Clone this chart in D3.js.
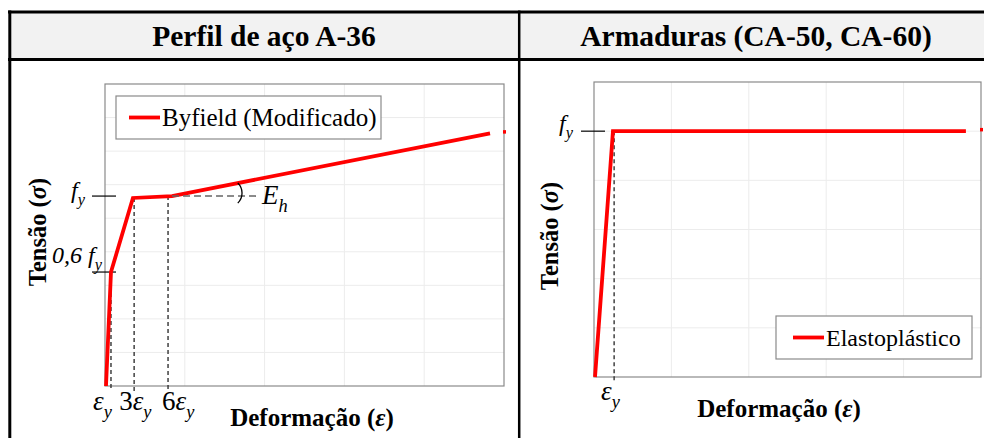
<!DOCTYPE html>
<html>
<head>
<meta charset="utf-8">
<script src="https://cdn.jsdelivr.net/npm/d3@7"></script>
<style>
  body { margin: 0; background: #fff; }
  svg { display: block; font-family: "Liberation Serif", "Times New Roman", serif; }
</style>
</head>
<body>
<div id="chart"></div>
<script>
// --- data (normalised units: strain 0..100 across the axis, stress in f_y) ---
var byfieldX = [0.25, 1.5, 7.0, 16.8, 96.5]
var byfieldY = [0, 0.6, 0.99, 1.0, 1.33]
var leftStrainTicks = [1.5, 7.3, 15.8]
var leftStrainLabels = ['', '3', '6']
var leftStressTicks = [1.0, 0.6]
var leftStressLabels = ['', '0,6 ']

var elastoX = [0.26, 4.9, 96.1]
var elastoY = [0, 1.0, 1.0]
var rightStrainTicks = [5.2]
var rightStressTicks = [1.0]

var titles = ['Perfil de aço A-36', 'Armaduras (CA-50, CA-60)']
var legendNames = ['Byfield (Modificado)', 'Elastoplástico']

var W = 984, H = 438
var svg = d3.select('#chart').append('svg').attr('width', W).attr('height', H)

// --- table frame ---
svg.append('rect').attr('x', 9.5).attr('y', 12).attr('width', W).attr('height', 47.5).attr('fill', '#f2f2f2')
svg.append('line').attr('x1', 8).attr('x2', W).attr('y1', 12).attr('y2', 12).attr('stroke', '#000').attr('stroke-width', 3)
svg.append('line').attr('x1', 8).attr('x2', W).attr('y1', 59.5).attr('y2', 59.5).attr('stroke', '#000').attr('stroke-width', 3)
svg.append('line').attr('x1', 9.8).attr('x2', 9.8).attr('y1', 10.5).attr('y2', H).attr('stroke', '#000').attr('stroke-width', 3)
svg.append('line').attr('x1', 519.2).attr('x2', 519.2).attr('y1', 10.5).attr('y2', H).attr('stroke', '#000').attr('stroke-width', 2.5)

svg.selectAll('text.title').data(titles).enter().append('text')
  .attr('class', 'title')
  .attr('x', function(d, i) { return i === 0 ? 264 : 756 })
  .attr('y', 46)
  .attr('text-anchor', 'middle')
  .attr('font-weight', 'bold')
  .attr('font-size', 29.5)
  .text(function(d) { return d })

function panel(opt) {
  var x = d3.scaleLinear().domain([0, 100]).range([opt.x0, opt.x1])
  var y = d3.scaleLinear().domain([0, opt.ymax]).range([opt.y0, opt.y1])
  var g = svg.append('g')

  // grid
  g.selectAll('line.gx').data(d3.range(20, 100, 20)).enter().append('line')
    .attr('x1', x).attr('x2', x).attr('y1', opt.y0).attr('y2', opt.y1)
    .attr('stroke', '#ececec').attr('stroke-width', 1)
  g.selectAll('line.gy').data(d3.range(1, opt.rows).map(function(i) { return i * opt.ymax / opt.rows })).enter().append('line')
    .attr('y1', y).attr('y2', y).attr('x1', opt.x0).attr('x2', opt.x1)
    .attr('stroke', '#ececec').attr('stroke-width', 1)
  g.append('rect')
    .attr('x', opt.x0).attr('y', opt.y1).attr('width', opt.x1 - opt.x0).attr('height', opt.y0 - opt.y1)
    .attr('fill', 'none').attr('stroke', '#8a8a8a').attr('stroke-width', 1.2)

  // dashed guides
  opt.strainTicks.forEach(function(t, i) {
    g.append('line')
      .attr('x1', x(t)).attr('x2', x(t))
      .attr('y1', y(opt.guideTop[i])).attr('y2', opt.y0 + opt.tickDrop)
      .attr('stroke', '#333').attr('stroke-width', 1.4).attr('stroke-dasharray', '4,3')
  })
  // stress ticks
  opt.stressTicks.forEach(function(t) {
    g.append('line')
      .attr('x1', opt.x0 - 13).attr('x2', opt.x0 + 11)
      .attr('y1', y(t)).attr('y2', y(t))
      .attr('stroke', '#000').attr('stroke-width', 1.2)
  })

  // curve
  var pts = opt.xs.map(function(v, i) { return [x(v), y(opt.ys[i])] })
  g.append('path').datum(pts)
    .attr('d', d3.line())
    .attr('fill', 'none').attr('stroke', '#ff0000').attr('stroke-width', 3.8)
    .attr('stroke-linejoin', 'miter')
  // clipped continuation mark at the frame
  var last = opt.ys[opt.ys.length - 1]
  g.append('line')
    .attr('x1', x(100) - 1).attr('x2', x(100) + 2)
    .attr('y1', y(last) - 1.5).attr('y2', y(last) - 1.5)
    .attr('stroke', '#ff0000').attr('stroke-width', 3.5)

  // legend
  var lg = g.append('g').attr('transform', 'translate(' + opt.legend[0] + ',' + opt.legend[1] + ')')
  lg.append('rect').attr('width', opt.legend[2]).attr('height', 43)
    .attr('fill', '#fff').attr('stroke', '#8a8a8a').attr('stroke-width', 1.2)
  lg.append('line').attr('x1', opt.legend[3]).attr('x2', opt.legend[3] + 31).attr('y1', 21.5).attr('y2', 21.5)
    .attr('stroke', '#ff0000').attr('stroke-width', 3.8)
  lg.append('text').attr('x', opt.legend[3] + 33).attr('y', 29.5).attr('font-size', opt.legend[4]).text(opt.name)

  // axis titles
  g.append('text')
    .attr('transform', 'translate(' + opt.ylab[0] + ',' + opt.ylab[1] + ') rotate(-90)')
    .attr('text-anchor', 'middle').attr('font-weight', 'bold').attr('font-size', 24.5)
    .call(function(t) {
      t.append('tspan').text('Tensão (')
      t.append('tspan').attr('font-style', 'italic').text('σ')
      t.append('tspan').text(')')
    })
  g.append('text')
    .attr('x', opt.xlab[0]).attr('y', opt.xlab[1])
    .attr('text-anchor', 'middle').attr('font-weight', 'bold').attr('font-size', 25)
    .call(function(t) {
      t.append('tspan').text('Deformação (')
      t.append('tspan').attr('font-style', 'italic').text('ε')
      t.append('tspan').text(')')
    })
  return { x: x, y: y, g: g }
}

function sub(t, main, s, size) {
  t.append('tspan').attr('font-style', 'italic').text(main)
  t.append('tspan').attr('font-style', 'italic').attr('font-size', size * 0.68).attr('dy', size * 0.28).text(s)
}

// --- left panel ---
var L = panel({
  x0: 105, x1: 504, y0: 386, y1: 84, ymax: 1.59, rows: 9,
  xs: byfieldX, ys: byfieldY,
  strainTicks: leftStrainTicks, guideTop: [0.6, 0.99, 1.0], tickDrop: 5,
  stressTicks: leftStressTicks,
  legend: [116, 96, 265, 13, 25], name: legendNames[0],
  ylab: [46, 232], xlab: [312, 426]
})

leftStrainTicks.forEach(function(t, i) {
  var tx = L.g.append('text').attr('x', L.x(t) + [-18, -15, -6][i]).attr('y', 410).attr('font-size', 27)
  tx.append('tspan').text(leftStrainLabels[i])
  sub(tx, 'ε', 'y', 27)
})
leftStressTicks.forEach(function(t, i) {
  var tx = L.g.append('text').attr('x', i ? 102 : 85).attr('y', L.y(t) + (i ? -9 : 2)).attr('text-anchor', 'end').attr('font-size', 24)
  tx.append('tspan').attr('font-style', 'italic').text(leftStressLabels[i])
  sub(tx, 'f', 'y', 24)
})

// hardening slope marker
var px = L.x(byfieldX[3]), py = L.y(byfieldY[3])
L.g.append('line').attr('x1', px).attr('x2', px + 85).attr('y1', py).attr('y2', py)
  .attr('stroke', '#666').attr('stroke-width', 1.6).attr('stroke-dasharray', '7,4')
var arc = d3.path()
arc.moveTo(px + 56 + 14 * Math.cos(-0.8), py - 3 + 14 * Math.sin(-0.8))
arc.arc(px + 56, py - 3, 14, -0.8, 0.8)
L.g.append('path').attr('d', arc.toString()).attr('fill', 'none').attr('stroke', '#000').attr('stroke-width', 1.3)
var eh = L.g.append('text').attr('x', px + 90).attr('y', py + 8).attr('font-size', 27)
sub(eh, 'E', 'h', 27)

// --- right panel ---
var R = panel({
  x0: 594, x1: 981, y0: 377, y1: 82, ymax: 1.2, rows: 6,
  xs: elastoX, ys: elastoY,
  strainTicks: rightStrainTicks, guideTop: [1.0], tickDrop: 5,
  stressTicks: rightStressTicks,
  legend: [776, 316, 196, 17, 24], name: legendNames[1],
  ylab: [558, 236], xlab: [779, 417]
})
rightStrainTicks.forEach(function(t) {
  var tx = R.g.append('text').attr('x', R.x(t) - 13).attr('y', 400).attr('font-size', 27)
  sub(tx, 'ε', 'y', 27)
})
rightStressTicks.forEach(function(t) {
  var tx = R.g.append('text').attr('x', 573).attr('y', R.y(t)).attr('text-anchor', 'end').attr('font-size', 24)
  sub(tx, 'f', 'y', 24)
})
</script>
</body>
</html>
